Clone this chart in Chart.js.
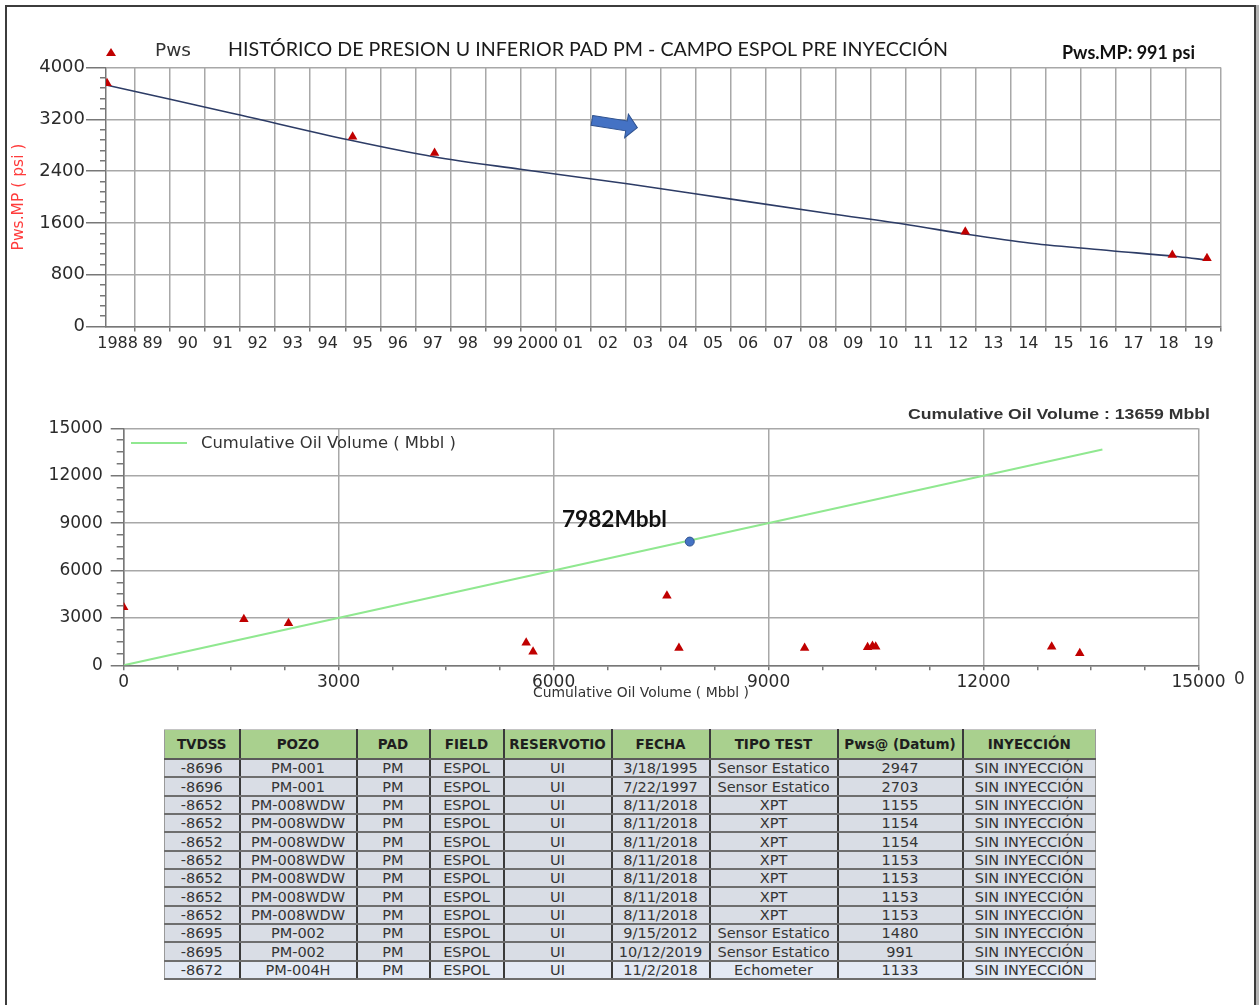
<!DOCTYPE html>
<html lang="es">
<head>
<meta charset="utf-8">
<title>Histórico de presión U inferior PAD PM</title>
<script src="https://cdn.jsdelivr.net/npm/chart.js@4.4.1/dist/chart.umd.min.js"></script>
<style>
  html, body { margin: 0; padding: 0; background: #fff; }
  #page { position: relative; width: 1260px; height: 1005px; overflow: hidden; font-family: "DejaVu Sans", sans-serif; }
  #frame { position: absolute; left: 5px; top: 5px; width: 1247px; height: 1020px; border: 2px solid #3c3c3c; border-bottom: none; box-shadow: 3px 0 0 #b5b5b5; }
  canvas { position: absolute; left: 0; }
  .txt { position: absolute; display: inline-block; white-space: nowrap; line-height: 1; transform-origin: left center; }
  .tri { position: absolute; width: 0; height: 0; border-left: 5px solid transparent; border-right: 5px solid transparent; border-bottom: 8px solid #c00000; }
  #tbl { position: absolute; left: 164px; top: 729px; width: 931px; border-collapse: collapse; table-layout: fixed; font-family: "DejaVu Sans", sans-serif; text-align: center; }
  #tbl th { background: #a9d08e; color: #1e1e1e; font-size: 13.5px; font-weight: bold; height: 28px; padding: 0; border-left: 2px solid #3a3a3a; border-right: 2px solid #3a3a3a; border-top: 1px solid #c4c4c4; border-bottom: 2px solid #5a5a5a; }
  #tbl td { background: #d9dde5; color: #353535; font-size: 14.5px; height: 16.35px; line-height: 16px; padding: 0; border-left: 2px solid #3a3a3a; border-right: 2px solid #3a3a3a; border-bottom: 2px solid #6e6e6e; }
  #tbl tr:last-child td { background: #e3e9f4; }
  #tbl th:first-child, #tbl td:first-child { border-left: 1px solid #9a9a9a; }
  #tbl th:last-child, #tbl td:last-child { border-right: 1px solid #9a9a9a; }
</style>
</head>
<body>
<div id="page">
  <div id="frame"></div>
  <canvas id="pwsChart" width="1260" height="360" style="top:0"></canvas>
  <canvas id="cumChart" width="1260" height="350" style="top:360px"></canvas>

  <!-- 上段のタイトルと凡例 -->
  <div class="tri" style="left:106px; top:48px;"></div>
  <span class="txt" data-w="36" style="left:155px; top:50px; font-size:17px; color:#333;">Pws</span>
  <span class="txt" data-w="720" style="left:228px; top:48px; font-family:Lato, sans-serif; font-size:20px; color:#1a1a1a;">HISTÓRICO DE PRESION U INFERIOR PAD PM - CAMPO ESPOL PRE INYECCIÓN</span>
  <span class="txt" data-w="133" style="left:1062px; top:51px; font-family:Lato, sans-serif; font-weight:bold; font-size:19px; color:#111;">Pws.MP: 991 psi</span>

  <!-- 下段のラベル -->
  <span class="txt" data-w="302" style="left:908px; top:413px; font-family:'Liberation Sans', sans-serif; font-weight:bold; font-size:15px; color:#333;">Cumulative Oil Volume : 13659 Mbbl</span>
  <div style="position:absolute; left:131px; top:442px; width:56px; height:2px; background:#90e890;"></div>
  <span class="txt" data-w="255" style="left:201px; top:443px; font-size:15px; color:#333;">Cumulative Oil Volume ( Mbbl )</span>
  <span class="txt" data-w="105" style="left:562px; top:519px; font-family:Lato, sans-serif; font-weight:bold; font-size:22px; color:#111;">7982Mbbl</span>
  <span class="txt" data-w="216" style="left:533px; top:692px; font-size:14px; color:#333;">Cumulative Oil Volume ( Mbbl )</span>
  <span class="txt" style="left:1234px; top:678px; font-size:17px; color:#333;">0</span>

  <table id="tbl">
    <colgroup>
      <col style="width:75px"><col style="width:117px"><col style="width:73px"><col style="width:74px"><col style="width:108px">
      <col style="width:98px"><col style="width:128px"><col style="width:125px"><col style="width:133px">
    </colgroup>
    <thead><tr id="thead-row"></tr></thead>
    <tbody id="tbody"></tbody>
  </table>
</div>

<script>
// 上段: Pws の傾向線 (年, psi)
const trendYears = [1988.17, 1990, 1992, 1995.12, 1997.52, 2000, 2003.1, 2005.97, 2008.85, 2011.1, 2012.68, 2014.58, 2016.86, 2018.8, 2019.6];
const trendValues = [3730, 3510, 3265, 2880, 2622, 2428, 2201, 1971, 1742, 1568, 1429, 1285, 1171, 1078, 1027];

// 上段: Pws 測定点
const pwsYears = [1988.2, 1995.21, 1997.55, 2012.7, 2018.61, 2019.6];
const pwsValues = [3756, 2931, 2679, 1464, 1104, 1053];

// 上段の目盛り
const yearTicks = [1989, 1990, 1991, 1992, 1993, 1994, 1995, 1996, 1997, 1998, 1999, 2000, 2001, 2002, 2003, 2004,
                   2005, 2006, 2007, 2008, 2009, 2010, 2011, 2012, 2013, 2014, 2015, 2016, 2017, 2018, 2019, 2020];
const yearLabels = ['1988', '89', '90', '91', '92', '93', '94', '95', '96', '97', '98', '99', '2000', '01', '02', '03',
                    '04', '05', '06', '07', '08', '09', '10', '11', '12', '13', '14', '15', '16', '17', '18', '19'];
const pwsTicks = [0, 800, 1600, 2400, 3200, 4000];

// 矢印の位置 (年, psi)
const arrowAt = [2002.69, 3127];

// 下段: 累積産油量の線と Pws 点
const cumLineX = [0, 13659];
const cumLineY = [0, 13659];
const cumPwsX = [0, 1677, 2300, 5617, 5713, 7581, 7749, 9503, 10382, 10450, 10495, 12951, 13343];
const cumPwsY = [3671, 2911, 2658, 1430, 861, 4405, 1095, 1095, 1139, 1222, 1177, 1177, 759];
const markX = [7900];
const markY = [7830];
const cumTicks = [0, 3000, 6000, 9000, 12000, 15000];

// 表データ
const tableHeader = ['TVDSS', 'POZO', 'PAD', 'FIELD', 'RESERVOTIO', 'FECHA', 'TIPO TEST', 'Pws@ (Datum)', 'INYECCIÓN'];
const tableRows = [
    ['-8696', 'PM-001', 'PM', 'ESPOL', 'UI', '3/18/1995', 'Sensor Estatico', '2947', 'SIN INYECCIÓN'],
    ['-8696', 'PM-001', 'PM', 'ESPOL', 'UI', '7/22/1997', 'Sensor Estatico', '2703', 'SIN INYECCIÓN'],
    ['-8652', 'PM-008WDW', 'PM', 'ESPOL', 'UI', '8/11/2018', 'XPT', '1155', 'SIN INYECCIÓN'],
    ['-8652', 'PM-008WDW', 'PM', 'ESPOL', 'UI', '8/11/2018', 'XPT', '1154', 'SIN INYECCIÓN'],
    ['-8652', 'PM-008WDW', 'PM', 'ESPOL', 'UI', '8/11/2018', 'XPT', '1154', 'SIN INYECCIÓN'],
    ['-8652', 'PM-008WDW', 'PM', 'ESPOL', 'UI', '8/11/2018', 'XPT', '1153', 'SIN INYECCIÓN'],
    ['-8652', 'PM-008WDW', 'PM', 'ESPOL', 'UI', '8/11/2018', 'XPT', '1153', 'SIN INYECCIÓN'],
    ['-8652', 'PM-008WDW', 'PM', 'ESPOL', 'UI', '8/11/2018', 'XPT', '1153', 'SIN INYECCIÓN'],
    ['-8652', 'PM-008WDW', 'PM', 'ESPOL', 'UI', '8/11/2018', 'XPT', '1153', 'SIN INYECCIÓN'],
    ['-8695', 'PM-002', 'PM', 'ESPOL', 'UI', '9/15/2012', 'Sensor Estatico', '1480', 'SIN INYECCIÓN'],
    ['-8695', 'PM-002', 'PM', 'ESPOL', 'UI', '10/12/2019', 'Sensor Estatico', '991', 'SIN INYECCIÓN'],
    ['-8672', 'PM-004H', 'PM', 'ESPOL', 'UI', '11/2/2018', 'Echometer', '1133', 'SIN INYECCIÓN']
];

const gridColor = '#a8a8a8';
const tickFont = { family: 'DejaVu Sans', size: 17 };
const toPoints = (xs, ys) => xs.map((x, i) => ({ x: x, y: ys[i] }));

// 青い矢印を描くプラグイン
const arrowPlugin = {
    id: 'blueArrow',
    afterDatasetsDraw(chart) {
        const { ctx, scales } = chart;
        const x = scales.x.getPixelForValue(arrowAt[0]);
        const y = scales.y.getPixelForValue(arrowAt[1]);
        ctx.save();
        ctx.translate(x, y);
        ctx.rotate(9 * Math.PI / 180);
        ctx.beginPath();
        ctx.moveTo(-23, -5);
        ctx.lineTo(12, -5);
        ctx.lineTo(12, -12);
        ctx.lineTo(23, 0);
        ctx.lineTo(12, 12);
        ctx.lineTo(12, 5);
        ctx.lineTo(-23, 5);
        ctx.closePath();
        ctx.fillStyle = '#4472c4';
        ctx.fill();
        ctx.strokeStyle = '#2f528f';
        ctx.lineWidth = 1;
        ctx.stroke();
        ctx.restore();
    }
};

// 上段チャート
function drawPwsChart() {
    const ctx = document.getElementById('pwsChart').getContext('2d');
    new Chart(ctx, {
        type: 'scatter',
        data: {
            datasets: [{
                label: 'Pws',
                data: toPoints(pwsYears, pwsValues),
                pointStyle: 'triangle',
                pointRadius: 5.5,
                backgroundColor: '#c00000',
                borderColor: '#c00000',
                borderWidth: 0,
                showLine: false
            }, {
                label: 'Pws trend',
                data: toPoints(trendYears, trendValues),
                showLine: true,
                borderColor: '#2d3c66',
                borderWidth: 1.6,
                pointRadius: 0,
                cubicInterpolationMode: 'monotone'
            }]
        },
        options: {
            responsive: false,
            animation: false,
            events: [],
            layout: { padding: { left: 0, top: 67.5, right: 39, bottom: 0 } },
            plugins: { legend: { display: false }, tooltip: { enabled: false } },
            scales: {
                x: {
                    type: 'linear',
                    min: 1988.17,
                    max: 2020,
                    afterBuildTicks: (s) => { s.ticks = yearTicks.map(v => ({ value: v })); },
                    afterFit: (s) => { s.height = 33.5; s.paddingLeft = 0; s.paddingRight = 0; },
                    grid: { color: gridColor, lineWidth: 1.5, tickLength: 5, tickColor: '#777' },
                    border: { color: '#777', width: 1.5 },
                    ticks: {
                        autoSkip: false,
                        maxRotation: 0,
                        labelOffset: -17.5,
                        padding: 3,
                        color: '#2b2b2b',
                        font: { family: 'DejaVu Sans', size: 16 },
                        callback: (v, i) => yearLabels[i]
                    }
                },
                y: {
                    min: 0,
                    max: 4000,
                    afterFit: (s) => { s.width = 106; },
                    title: {
                        display: true,
                        text: 'Pws.MP ( psi )',
                        color: '#ff3b3b',
                        font: { family: 'DejaVu Sans', size: 15.5 },
                        padding: { top: 10, bottom: 0 }
                    },
                    grid: {
                        color: (c) => (c.tick && pwsTicks.includes(c.tick.value)) ? gridColor : 'rgba(0,0,0,0)',
                        lineWidth: 1.5,
                        tickLength: 20,
                        tickColor: '#777',
                        tickBorderDash: (c) => (c.tick && pwsTicks.includes(c.tick.value)) ? [] : [6, 14],
                        tickBorderDashOffset: (c) => (c.tick && pwsTicks.includes(c.tick.value)) ? 0 : 6
                    },
                    border: { color: '#777', width: 1.5 },
                    ticks: {
                        stepSize: 160,
                        autoSkip: false,
                        padding: 1,
                        color: '#2b2b2b',
                        font: { family: 'DejaVu Sans', size: 18 },
                        callback: (v) => pwsTicks.includes(v) ? String(v) : ''
                    }
                }
            }
        },
        plugins: [arrowPlugin]
    });
}

// 下段チャート
function drawCumChart() {
    const ctx = document.getElementById('cumChart').getContext('2d');
    new Chart(ctx, {
        type: 'scatter',
        data: {
            datasets: [{
                label: '7982Mbbl',
                data: toPoints(markX, markY),
                pointRadius: 4.5,
                backgroundColor: '#4472c4',
                borderColor: '#2f528f',
                borderWidth: 1
            }, {
                label: 'Pws',
                data: toPoints(cumPwsX, cumPwsY),
                pointStyle: 'triangle',
                pointRadius: 5.5,
                backgroundColor: '#c00000',
                borderColor: '#c00000',
                borderWidth: 0
            }, {
                label: 'Cumulative Oil Volume ( Mbbl )',
                data: toPoints(cumLineX, cumLineY),
                showLine: true,
                borderColor: '#90e890',
                borderWidth: 2,
                pointRadius: 0
            }]
        },
        options: {
            responsive: false,
            animation: false,
            events: [],
            layout: { padding: { left: 0, top: 68.3, right: 61.5, bottom: 0 } },
            plugins: { legend: { display: false }, tooltip: { enabled: false } },
            scales: {
                x: {
                    type: 'linear',
                    min: 0,
                    max: 15000,
                    afterFit: (s) => { s.height = 44.7; s.paddingLeft = 0; s.paddingRight = 0; },
                    grid: {
                        color: (c) => (c.tick && cumTicks.includes(c.tick.value)) ? gridColor : 'rgba(0,0,0,0)',
                        lineWidth: 1.5,
                        tickLength: 5,
                        tickColor: '#777'
                    },
                    border: { color: '#777', width: 1.5 },
                    ticks: {
                        stepSize: 750,
                        autoSkip: false,
                        maxRotation: 0,
                        padding: 2,
                        color: '#2b2b2b',
                        font: tickFont,
                        callback: (v) => cumTicks.includes(v) ? String(v) : ''
                    }
                },
                y: {
                    min: 0,
                    max: 15000,
                    afterFit: (s) => { s.width = 123.7; },
                    grid: {
                        color: (c) => (c.tick && cumTicks.includes(c.tick.value)) ? gridColor : 'rgba(0,0,0,0)',
                        lineWidth: 1.5,
                        tickLength: 13,
                        tickColor: '#777',
                        tickBorderDash: (c) => (c.tick && cumTicks.includes(c.tick.value)) ? [] : [7, 6],
                        tickBorderDashOffset: (c) => (c.tick && cumTicks.includes(c.tick.value)) ? 0 : 7
                    },
                    border: { color: '#777', width: 1.5 },
                    ticks: {
                        stepSize: 750,
                        autoSkip: false,
                        padding: 8,
                        color: '#2b2b2b',
                        font: tickFont,
                        callback: (v) => cumTicks.includes(v) ? String(v) : ''
                    }
                }
            }
        }
    });
}

// 表を組み立てる
function buildTable() {
    const headRow = document.getElementById('thead-row');
    tableHeader.forEach(h => {
        const th = document.createElement('th');
        th.textContent = h;
        headRow.appendChild(th);
    });
    const tbody = document.getElementById('tbody');
    tableRows.forEach(row => {
        const tr = document.createElement('tr');
        row.forEach(cell => {
            const td = document.createElement('td');
            td.textContent = cell;
            tr.appendChild(td);
        });
        tbody.appendChild(tr);
    });
}

// テキストの幅を元画像に合わせる
function fitTexts() {
    document.querySelectorAll('.txt').forEach(el => {
        const target = parseFloat(el.dataset.w);
        let scale = 1;
        if (target) {
            scale = target / el.getBoundingClientRect().width;
        }
        el.style.transform = `translateY(-50%) scaleX(${scale})`;
    });
}

document.addEventListener('DOMContentLoaded', () => {
    buildTable();
    drawPwsChart();
    drawCumChart();
    document.fonts.ready.then(fitTexts);
});
</script>
</body>
</html>
